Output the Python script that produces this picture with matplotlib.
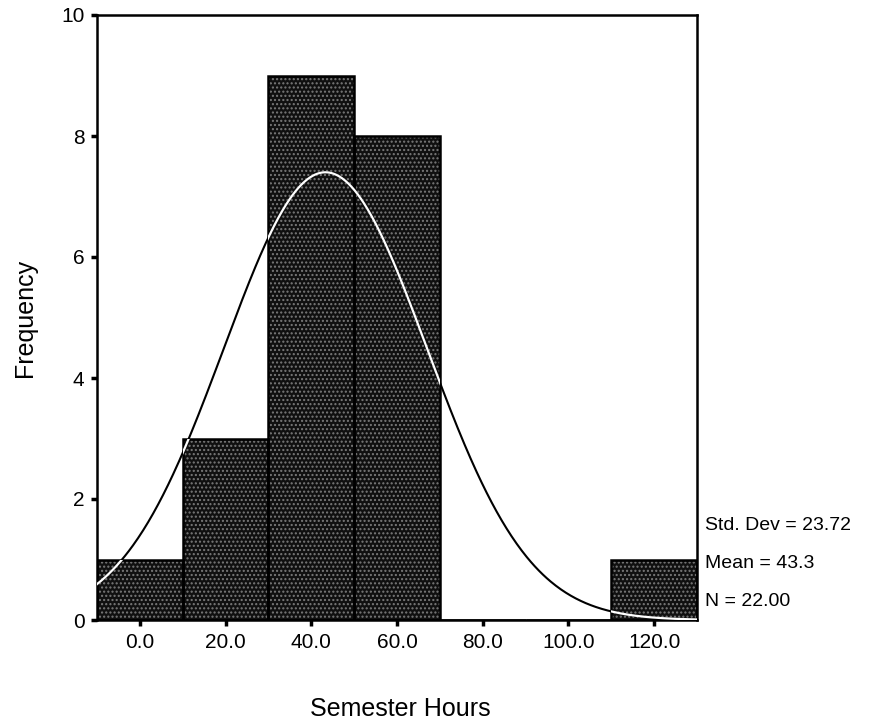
import numpy as np
import matplotlib
matplotlib.use("Agg")
import matplotlib.pyplot as plt

plt.rcParams['font.family'] = ['Liberation Sans', 'DejaVu Sans']

bin_edges = [-10, 10, 30, 50, 70, 90, 110, 130]
counts = [1, 3, 9, 8, 0, 0, 1]
xticks = [0, 20, 40, 60, 80, 100, 120]
xtick_labels = ["0.0", "20.0", "40.0", "60.0", "80.0", "100.0", "120.0"]
yticks = [0, 2, 4, 6, 8, 10]
std_dev = 23.72
mean = 43.3
n = 22

fig = plt.figure(figsize=(8.69, 7.23), dpi=100)
ax = fig.add_axes([97/869, 1-620/723, 600/869, 605/723])

lefts = np.array(bin_edges[:-1])
widths = np.diff(bin_edges)
bars = ax.bar(lefts, counts, width=widths, align='edge', color='#101010',
              edgecolor='#7a7a7a', hatch='....', linewidth=0, zorder=2)
ax.bar(lefts, counts, width=widths, align='edge', fill=False,
       edgecolor='black', linewidth=1.8, zorder=3)

xs = np.linspace(-10, 130, 600)
bw = widths[0]
ys = n * bw / (std_dev * np.sqrt(2 * np.pi)) * np.exp(-0.5 * ((xs - mean) / std_dev) ** 2)
ax.plot(xs, ys, color='black', lw=1.5, zorder=4)
for b in bars:
    if b.get_height() > 0:
        line, = ax.plot(xs, ys, color='white', lw=1.6, zorder=5)
        line.set_clip_path(b)

ax.set_xlim(-10, 130)
ax.set_ylim(0, 10)
ax.set_xticks(xticks)
ax.set_xticklabels(xtick_labels)
ax.set_yticks(yticks)
ax.tick_params(axis='both', labelsize=15, length=4, width=2.5, direction='out', pad=5)
for s in ax.spines.values():
    s.set_linewidth(1.8)

fig.text(25/869, 1-(318/723), "Frequency", rotation=90, ha='center', va='center', fontsize=18)
fig.text(400/869, 1-709/723, "Semester Hours", ha='center', va='center', fontsize=18)

stats = [f"Std. Dev = {std_dev:.2f}", f"Mean = {mean:.1f}", f"N = {n:.2f}"]
ypos = [526, 564, 601]
for s, yp in zip(stats, ypos):
    fig.text(705/869, 1-yp/723, s, ha='left', va='center', fontsize=14)

fig.savefig("out.png", dpi=100)
